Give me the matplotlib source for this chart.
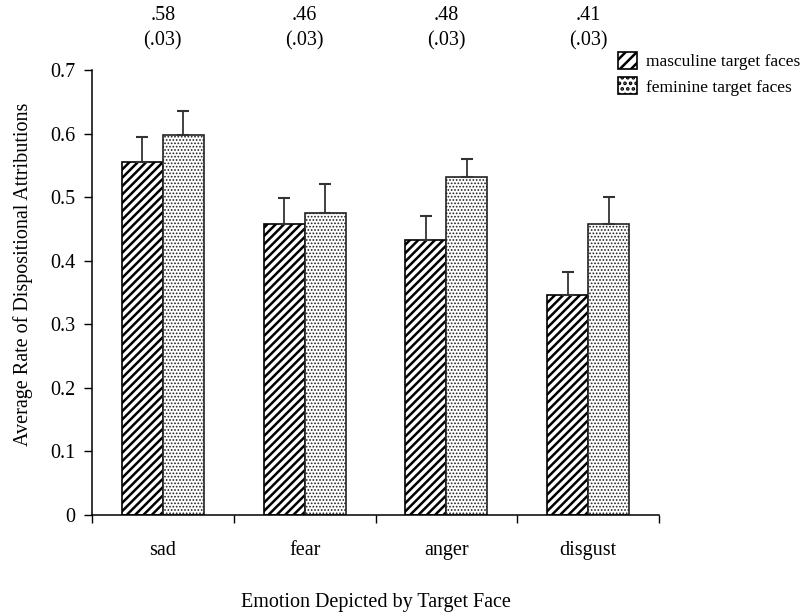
import matplotlib
matplotlib.use("Agg")
import matplotlib.pyplot as plt
from matplotlib.patches import Patch
import matplotlib.transforms as mtransforms
import numpy as np

categories = ["sad", "fear", "anger", "disgust"]
masculine = [0.556, 0.457, 0.432, 0.346]
masculine_err = [0.038, 0.042, 0.039, 0.037]
feminine = [0.597, 0.475, 0.532, 0.457]
feminine_err = [0.038, 0.045, 0.028, 0.044]
top_means = [".58", ".46", ".48", ".41"]
top_se = ["(.03)", "(.03)", "(.03)", "(.03)"]
yticks = [0, 0.1, 0.2, 0.3, 0.4, 0.5, 0.6, 0.7]
ytick_labels = ["0", "0.1", "0.2", "0.3", "0.4", "0.5", "0.6", "0.7"]

plt.rcParams["font.family"] = ["Liberation Serif", "DejaVu Serif"]
plt.rcParams["hatch.linewidth"] = 1.8

fig = plt.figure(figsize=(8.08, 6.15), dpi=100)
ax = fig.add_axes([92 / 808, 1 - 515 / 615, (659 - 92) / 808, (515 - 70) / 615])

x = np.arange(len(categories))
w = 0.29
b1 = ax.bar(x - w / 2, masculine, w, facecolor="white", edgecolor="black",
            linewidth=1.2, hatch="////", zorder=2)
b2 = ax.bar(x + w / 2, feminine, w, facecolor="white", edgecolor="#222222",
            linewidth=1.2, hatch=".....", zorder=2)
for p in b2:
    try:
        p.set_hatch_linewidth(0.8)
    except Exception:
        pass

ax.errorbar(x - w / 2, masculine, yerr=[np.zeros(len(x)), masculine_err],
            fmt="none", ecolor="#333333", elinewidth=1.3, capsize=4,
            capthick=1.5, zorder=3)
ax.errorbar(x + w / 2, feminine, yerr=[np.zeros(len(x)), feminine_err],
            fmt="none", ecolor="#333333", elinewidth=1.3, capsize=4,
            capthick=1.5, zorder=3)

ax.set_xlim(-0.5, len(categories) - 0.5)
ax.set_ylim(0, 0.7)
ax.set_yticks(yticks)
ax.set_yticklabels(ytick_labels, fontsize=14.5)
ax.tick_params(axis="y", direction="out", length=6, width=1, pad=6)

ax.set_xticks(np.arange(len(categories) + 1) - 0.5)
ax.set_xticklabels([])
ax.set_xticks(x, minor=True)
ax.set_xticklabels(categories, minor=True, fontsize=14.5)
ax.tick_params(axis="x", which="major", direction="out", length=6, width=1)
ax.tick_params(axis="x", which="minor", length=0, pad=19)

for s in ["top", "right"]:
    ax.spines[s].set_visible(False)
for s in ["left", "bottom"]:
    ax.spines[s].set_linewidth(1.1)

ax.set_xlabel("Emotion Depicted by Target Face", fontsize=14.5)
ax.xaxis.set_label_coords(0.5, -0.176)
ax.set_ylabel("Average Rate of Dispositional Attributions", fontsize=14.5)
ax.yaxis.set_label_coords(-0.104, 0.54)

trans = mtransforms.blended_transform_factory(ax.transData, fig.transFigure)
for xi, m, se in zip(x, top_means, top_se):
    ax.text(xi, 1 - 15 / 615, m, transform=trans, ha="center", va="center",
            fontsize=14.5)
    ax.text(xi, 1 - 41 / 615, se, transform=trans, ha="center", va="center",
            fontsize=14.5)

h1 = Patch(facecolor="white", edgecolor="black", hatch="///", linewidth=1.2)
h2 = Patch(facecolor="white", edgecolor="black", hatch="...", linewidth=1.2)
fig.legend([h1, h2], ["masculine target faces", "feminine target faces"],
           loc="upper left", bbox_to_anchor=(606 / 808, 1 - 40 / 615),
           frameon=False, fontsize=12.5, handlelength=1.1, handleheight=1.1,
           handletextpad=0.5, labelspacing=0.4, borderpad=0.2)

fig.savefig("out.png", dpi=100)
